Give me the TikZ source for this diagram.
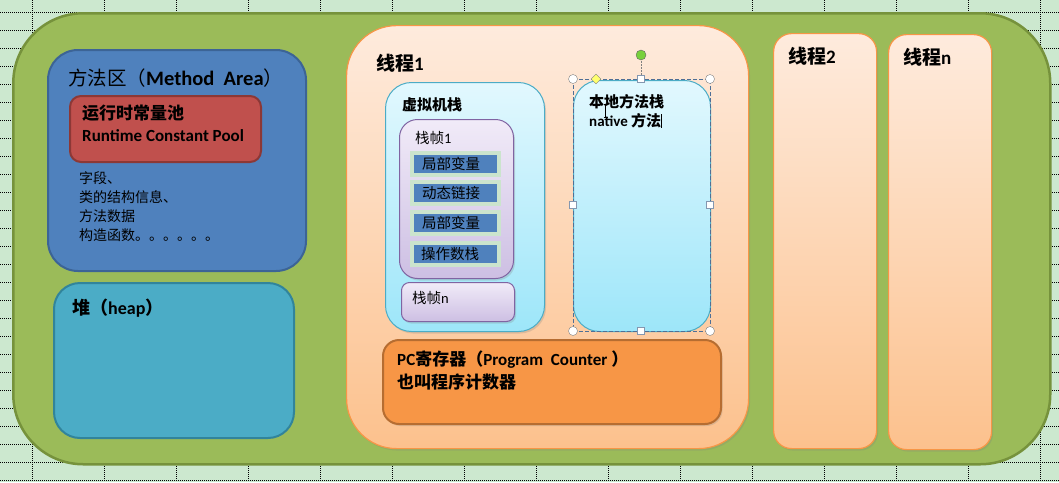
\documentclass[tikz,border=0pt]{standalone}
\usepackage{fontspec}
\setmainfont{Carlito}
\newfontfamily\cjk{Noto Sans CJK SC}
\usetikzlibrary{shadows,shapes.geometric}
\newcommand\zh[1]{{\cjk #1}}
\definecolor{sheet}{HTML}{CCE8CF}
\definecolor{grn}{HTML}{9BBB59}
\definecolor{grnd}{HTML}{76923C}
\definecolor{mablue}{HTML}{4F81BD}
\definecolor{mabd}{HTML}{3C6496}
\definecolor{rcpred}{HTML}{C0504D}
\definecolor{rcpd}{HTML}{8C3836}
\definecolor{heapc}{HTML}{4BACC6}
\definecolor{heapd}{HTML}{31849B}
\definecolor{peachT}{HTML}{FEEBDD}
\definecolor{peachB}{HTML}{FCC18D}
\definecolor{orng}{HTML}{F79646}
\definecolor{orngd}{HTML}{B66D31}
\definecolor{cyanT}{HTML}{E2F8FE}
\definecolor{cyanB}{HTML}{9DE6F9}
\definecolor{lavT}{HTML}{F1EBF8}
\definecolor{lavB}{HTML}{CDBFE3}
\definecolor{purp}{HTML}{8064A2}
\definecolor{cellframe}{HTML}{CBE4CD}
\definecolor{selc}{HTML}{4F6F96}
\definecolor{handle}{HTML}{8497B0}
\definecolor{rotgreen}{HTML}{78D03C}
\definecolor{adjyellow}{HTML}{FFFF6E}
\begin{document}
\begin{tikzpicture}[x=1pt,y=-1pt,
  box/.style={draw, inner sep=0pt, anchor=north west},
  lbl/.style={anchor=west, inner sep=0pt, text=black},
  peach/.style={box, top color=peachT, bottom color=peachB, draw=orng, line width=1.2pt},
  cyanbox/.style={box, top color=cyanT, bottom color=cyanB, draw=heapc, line width=1pt, rounded corners=26pt},
  lav/.style={box, top color=lavT, bottom color=lavB, draw=purp, line width=1pt},
  cell/.style={draw=cellframe, line width=4pt, fill=mablue, minimum width=87pt, minimum height=22pt, inner sep=0pt,
     drop shadow={opacity=0.25, shadow xshift=1pt, shadow yshift=-1pt}},
  sh/.style={drop shadow={opacity=0.25, shadow xshift=1.5pt, shadow yshift=-2pt}},
  corner/.style={circle, draw=gray, fill=white, minimum size=9pt, inner sep=0pt},
  sq/.style={rectangle, draw=handle, fill=white, minimum size=7pt, inner sep=0pt},
  f14/.style={font=\fontsize{14}{16}\selectfont},
  f145/.style={font=\fontsize{14.5}{16}\selectfont},
  b15/.style={font=\fontsize{15}{17}\selectfont\bfseries},
  b17/.style={font=\fontsize{17}{19}\selectfont\bfseries},
  b18/.style={font=\fontsize{18}{20}\selectfont\bfseries},
  b19/.style={font=\fontsize{19}{21}\selectfont\bfseries},
]
\useasboundingbox (0,0) rectangle (1059,482);
% spreadsheet background
\fill[sheet] (0,0) rectangle (1059,482);
\foreach \i in {0,...,14} {
  \draw[black, line width=0.6pt, dash pattern=on 1pt off 1pt] ({32.3+72*\i},0) -- ({32.3+72*\i},482);
}
\foreach \j in {0,...,26} {
  \draw[black, line width=0.6pt, dash pattern=on 1pt off 1pt] (0,{12.3+18*\j}) -- (1059,{12.3+18*\j});
}

% big green container
\node[box, fill=grn, draw=grnd, line width=2.5pt, rounded corners=70pt,
  minimum width=1037pt, minimum height=451pt] (jvmarea) at (12,12) {};

% method area
\node[box, fill=mablue, draw=mabd, line width=2pt, rounded corners=30pt,
  minimum width=258pt, minimum height=221pt] (ma) at (47,49) {};
\node[lbl, font=\fontsize{19.5}{21}\selectfont] (matitle) at (68,78) {\zh{方法区（}{\fontsize{20.5}{21}\selectfont\bfseries Method\ \ Area}\zh{）}};
\node[box, fill=rcpred, draw=rcpd, line width=2pt, rounded corners=11pt,
  minimum width=191pt, minimum height=66pt] (rcp) at (69,95) {};
\node[lbl, b17] (rcp1) at (82,113) {\zh{运行时常量池}};
\node[lbl, b17] (rcp2) at (82,136) {Runtime Constant Pool};
\node[lbl, f14] (ma1) at (79,178) {\zh{字段、}};
\node[lbl, f14] (ma2) at (79,197) {\zh{类的结构信息、}};
\node[lbl, f14] (ma3) at (79,216) {\zh{方法数据}};
\node[lbl, f14] (ma4) at (79,235) {\zh{构造函数。。。。。。}};

% heap
\node[box, fill=heapc, draw=heapd, line width=2pt, rounded corners=26pt,
  minimum width=240pt, minimum height=155pt] (heap) at (53,282) {};
\node[lbl, b18] (heaplbl) at (72,308) {\zh{堆（}heap\zh{）}};

% thread 1
\node[peach, sh, rounded corners=50pt, minimum width=402pt, minimum height=423pt] (t1) at (346,25) {};
\node[lbl, b19] (t1lbl) at (376,63) {\zh{线程}1};

% JVM stack
\node[cyanbox, sh, minimum width=159pt, minimum height=249pt] (vms) at (385,82) {};
\node[lbl, b15] (vmslbl) at (402,105) {\zh{虚拟机栈}};
\node[lav, sh, rounded corners=18pt, minimum width=114pt, minimum height=159pt] (sf1) at (399,119) {};
\node[lbl, f145] (sf1lbl) at (415,138) {\zh{栈帧}1};
\node[cell] (c1) at (455,164) {};
\node[cell] (c2) at (455,193) {};
\node[cell] (c3) at (455,223) {};
\node[cell] (c4) at (455,254) {};
\node[lbl, f145] (c1l) at (422,164) {\zh{局部变量}};
\node[lbl, f145] (c2l) at (422,193) {\zh{动态链接}};
\node[lbl, f145] (c3l) at (422,223) {\zh{局部变量}};
\node[lbl, f145] (c4l) at (421,254) {\zh{操作数栈}};
\node[lav, sh, rounded corners=8pt, minimum width=113pt, minimum height=39pt] (sfn) at (401,282) {};
\node[lbl, f145] (sfnlbl) at (412,298) {\zh{栈帧}n};

% native method stack
\node[cyanbox, minimum width=137pt, minimum height=251pt] (nat) at (573,80) {};
\node[lbl, b15] (nat1) at (589,102) {\zh{本地方法栈}};
\node[lbl, b15] (nat2) at (589,121) {native \zh{方法}};
% text cursor and I-beam
\coordinate (cur1) at (661,114);
\coordinate (cur2) at (661,128);
\draw[black, line width=0.8pt] (cur1) -- (cur2);
\coordinate (ib1) at (605.5,104);
\coordinate (ib2) at (605.5,117);
\draw[black, line width=0.6pt] (ib1) -- (ib2);
\draw[black, line width=0.6pt] (603.5,104) -- (607.5,104) (603.5,117) -- (607.5,117);

% selection frame
\coordinate (s1) at (573,79);
\coordinate (s2) at (710,331);
\draw[selc, line width=0.8pt, dash pattern=on 4pt off 2pt] (s1) rectangle (s2);
\coordinate (rotc) at (641,55);
\coordinate (topmid) at (641,79);
\draw[gray, line width=0.8pt, dash pattern=on 1.5pt off 1.5pt] (rotc) -- (topmid);
\node[circle, draw=gray!80!black, fill=rotgreen, minimum size=10pt, inner sep=0pt] (rot) at (rotc) {};
\node[corner] (h1) at (573,79) {};
\node[corner] (h2) at (710,79) {};
\node[corner] (h3) at (573,331) {};
\node[corner] (h4) at (710,331) {};
\node[sq] (q1) at (641,79) {};
\node[sq] (q2) at (573,205) {};
\node[sq] (q3) at (710,205) {};
\node[sq] (q4) at (641,331) {};
\node[diamond, draw=gray, fill=adjyellow, minimum size=10pt, inner sep=0pt, aspect=1] (adj) at (596,79) {};

% PC register
\node[box, sh, fill=orng, draw=orngd, line width=2pt, rounded corners=16pt,
  minimum width=338pt, minimum height=84pt] (pc) at (382,339) {};
\node[lbl, b17] (pc1) at (397,360) {PC\zh{寄存器（}Program\ \ Counter \zh{）}};
\node[lbl, b17] (pc2) at (397,382) {\zh{也叫程序计数器}};

% thread 2 and n
\node[peach, sh, rounded corners=18pt, minimum width=103pt, minimum height=415pt] (t2) at (773,33) {};
\node[lbl, b19] (t2lbl) at (788,56) {\zh{线程}2};
\node[peach, sh, rounded corners=18pt, minimum width=103pt, minimum height=415pt] (tn) at (888,34) {};
\node[lbl, b19] (tnlbl) at (903,57) {\zh{线程}n};
\end{tikzpicture}
\end{document}
